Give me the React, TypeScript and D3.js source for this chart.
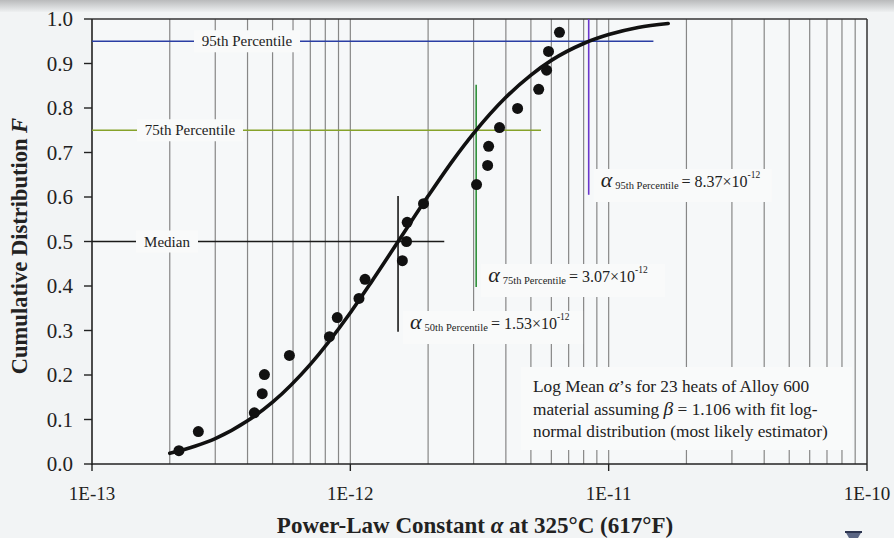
import React from 'react';
import * as d3 from 'd3';

const W = 894;
const H = 538;

// Axis ticks
const xTickValues = [1e-13, 1e-12, 1e-11, 1e-10];
const xTickLabels = ['1E-13', '1E-12', '1E-11', '1E-10'];
const yTickValues = [0, 0.1, 0.2, 0.3, 0.4, 0.5, 0.6, 0.7, 0.8, 0.9, 1.0];
const yTickLabels = ['0.0', '0.1', '0.2', '0.3', '0.4', '0.5', '0.6', '0.7', '0.8', '0.9', '1.0'];

// Log-mean alpha for each of the 23 heats and its cumulative rank
const heatAlpha = [
  2.17e-13, 2.58e-13, 4.25e-13, 4.56e-13, 4.65e-13, 5.81e-13, 8.3e-13, 8.9e-13,
  1.08e-12, 1.14e-12, 1.59e-12, 1.65e-12, 1.66e-12, 1.92e-12, 3.08e-12, 3.4e-12,
  3.43e-12, 3.78e-12, 4.44e-12, 5.36e-12, 5.75e-12, 5.85e-12, 6.45e-12,
];
const heatF = [
  0.030, 0.073, 0.115, 0.158, 0.201, 0.244, 0.286, 0.329, 0.372, 0.415, 0.457, 0.500,
  0.543, 0.585, 0.628, 0.671, 0.714, 0.756, 0.799, 0.842, 0.885, 0.927, 0.970,
];

// Fitted log-normal distribution curve
const fitAlpha = [
  2.0e-13, 2.5e-13, 3e-13, 4e-13, 5e-13, 7e-13, 1e-12, 1.2e-12, 1.5e-12, 2e-12, 2.5e-12,
  3e-12, 4e-12, 5e-12, 6e-12, 8e-12, 1e-11, 1.3e-11, 1.7e-11,
];
const fitF = [
  0.024, 0.040, 0.057, 0.097, 0.139, 0.224, 0.340, 0.407, 0.492, 0.602, 0.683,
  0.743, 0.824, 0.874, 0.907, 0.945, 0.965, 0.981, 0.990,
];

// Percentile markers
const pctNames = ['Median', '75th Percentile', '95th Percentile'];
const pctSubs = ['50th Percentile', '75th Percentile', '95th Percentile'];
const pctF = [0.5, 0.75, 0.95];
const pctAlpha = [1.53e-12, 3.07e-12, 8.37e-12];
const pctMantissa = ['1.53', '3.07', '8.37'];
const pctExponent = ['-12', '-12', '-12'];
const pctHLineEnd = [2.31e-12, 5.47e-12, 1.49e-11];
const pctVLineTop = [0.602, 0.852, 1.0];
const pctVLineBottom = [0.297, 0.398, 0.605];

const noteLines = [
  ['Log Mean ', 'α', '\u2019s for 23 heats of Alloy 600'],
  ['material assuming ', 'β', ' = 1.106 with fit log-'],
  ['normal distribution (most likely estimator)', '', ''],
];

const FONT = '"Liberation Serif", "Times New Roman", serif';

const margin = { left: 92, right: 27, top: 19, bottom: 74 };

export default function App() {
  const x = d3.scaleLog().domain([1e-13, 1e-10]).range([margin.left, W - margin.right]);
  const y = d3.scaleLinear().domain([0, 1]).range([H - margin.bottom, margin.top]);

  const x0 = x.range()[0];
  const x1 = x.range()[1];
  const yTop = y(1);
  const yBot = y(0);

  // minor log gridlines: 1..9 x each decade
  const grid: number[] = [];
  for (let e = -13; e < -10; e++) {
    for (let m = 1; m <= 9; m++) {
      const v = m * Math.pow(10, e);
      if (v > 1e-13) grid.push(v);
    }
  }

  const line = d3
    .line<number>()
    .x((_, i) => x(fitAlpha[i]))
    .y((d) => y(d))
    .curve(d3.curveMonotoneX);

  const pctColors = [
    { h: '#1a1a1a', v: '#1a1a1a' },
    { h: '#86a22a', v: '#2f913a' },
    { h: '#2a3ea4', v: '#6a36cc' },
  ];

  // label boxes for the horizontal lines
  const pctLabelCx = [167, 190, 247];
  const pctLabelW = [62, 106, 106];

  const boxFill = '#f9fafa';

  return (
    <svg
      width={W}
      height={H}
      style={{ position: 'absolute', left: 0, top: 0, fontFamily: FONT }}
    >
      <defs>
        <linearGradient id="topband" x1="0" y1="0" x2="0" y2="1">
          <stop offset="0" stopColor="#b9babb" />
          <stop offset="1" stopColor="#eef0f1" />
        </linearGradient>
      </defs>
      <rect x={0} y={0} width={W} height={H} fill="#f2f4f5" />
      <rect x={0} y={0} width={W} height={12} fill="url(#topband)" />
      <rect x={x0} y={yTop} width={x1 - x0} height={yBot - yTop} fill="#f6f8f9" />

      {/* vertical log gridlines */}
      {grid.map((v, i) => (
        <line key={i} x1={x(v)} x2={x(v)} y1={yTop} y2={yBot} stroke="#878787" strokeWidth={1.2} />
      ))}

      {/* frame */}
      <line x1={x0} x2={x1} y1={yTop} y2={yTop} stroke="#333" strokeWidth={1.5} />
      <line x1={x1} x2={x1} y1={yTop} y2={yBot} stroke="#333" strokeWidth={1.5} />
      <line x1={x0} x2={x0} y1={yTop} y2={yBot + 1} stroke="#222" strokeWidth={1.6} />
      <line x1={x0} x2={x1} y1={yBot} y2={yBot} stroke="#222" strokeWidth={1.6} />

      {/* y ticks */}
      {yTickValues.map((v, i) => (
        <g key={i}>
          <line x1={x0 - 8} x2={x0} y1={y(v)} y2={y(v)} stroke="#222" strokeWidth={1.4} />
          <text x={x0 - 19} y={y(v) + 7} textAnchor="end" fontSize={21} fill="#222">
            {yTickLabels[i]}
          </text>
        </g>
      ))}

      {/* x ticks */}
      {xTickValues.map((v, i) => (
        <g key={i}>
          <line x1={x(v)} x2={x(v)} y1={yBot} y2={yBot + 7} stroke="#222" strokeWidth={1.4} />
          <text x={x(v)} y={500} textAnchor="middle" fontSize={19} fill="#222">
            {xTickLabels[i]}
          </text>
        </g>
      ))}

      {/* percentile lines */}
      {pctF.map((f, i) => (
        <g key={i}>
          <line
            x1={x0}
            x2={x(pctHLineEnd[i])}
            y1={y(f)}
            y2={y(f)}
            stroke={pctColors[i].h}
            strokeWidth={1.6}
          />
          <line
            x1={x(pctAlpha[i])}
            x2={x(pctAlpha[i])}
            y1={y(pctVLineTop[i])}
            y2={y(pctVLineBottom[i])}
            stroke={pctColors[i].v}
            strokeWidth={1.6}
          />
        </g>
      ))}

      {/* percentile line labels */}
      {pctF.map((f, i) => (
        <g key={i}>
          <rect
            x={pctLabelCx[i] - pctLabelW[i] / 2}
            y={y(f) - 11}
            width={pctLabelW[i]}
            height={22}
            fill={boxFill}
          />
          <text x={pctLabelCx[i]} y={y(f) + 5} textAnchor="middle" fontSize={15} fill="#222">
            {pctNames[i]}
          </text>
        </g>
      ))}

      {/* percentile value annotations */}
      {pctAlpha.map((a, i) => {
        const ax = x(a);
        const base = [329, 282, 187][i];
        const boxW = [180, 184, 178][i];
        return (
          <g key={i}>
            <rect x={ax + 5} y={base - 18} width={boxW} height={33} fill={boxFill} />
            <text x={ax + 12} y={base} fontSize={16} fill="#222">
              <tspan fontSize={22} fontStyle="italic">α</tspan>
              <tspan fontSize={10.5} dx={3} dy={2}>{pctSubs[i]}</tspan>
              <tspan dy={-2} dx={3}>{'= ' + pctMantissa[i] + '×10'}</tspan>
              <tspan fontSize={9.5} dy={-9}>{pctExponent[i]}</tspan>
            </text>
          </g>
        );
      })}

      {/* note box */}
      <rect x={521} y={367} width={331} height={83} fill={boxFill} />
      {noteLines.map((ln, i) => (
        <text key={i} x={533} y={392 + i * 22.5} fontSize={17.3} fill="#222">
          {ln[0]}
          {ln[1] && <tspan fontStyle="italic" fontSize={19.5}>{ln[1]}</tspan>}
          {ln[2]}
        </text>
      ))}

      {/* fitted curve */}
      <path d={line(fitF) || ''} fill="none" stroke="#111" strokeWidth={3.6} strokeLinecap="round" />

      {/* data points */}
      {heatAlpha.map((a, i) => (
        <circle key={i} cx={x(a)} cy={y(heatF[i])} r={5.5} fill="#111" />
      ))}

      {/* axis titles */}
      <text
        transform={`translate(27, 246) rotate(-90)`}
        textAnchor="middle"
        fontSize={22.5}
        fontWeight="bold"
        fill="#222"
      >
        Cumulative Distribution <tspan fontStyle="italic">F</tspan>
      </text>
      <text x={475} y={533} textAnchor="middle" fontSize={23} fontWeight="bold" fill="#222">
        Power-Law Constant <tspan fontStyle="italic">α</tspan> at 325°C (617°F)
      </text>

      {/* corner glyph */}
      <path d="M845,531 L862,531 L858,538 L849,538 Z" fill="#5b6684" />
      <rect x={845} y={531} width={17} height={2} fill="#2d3550" />
    </svg>
  );
}
